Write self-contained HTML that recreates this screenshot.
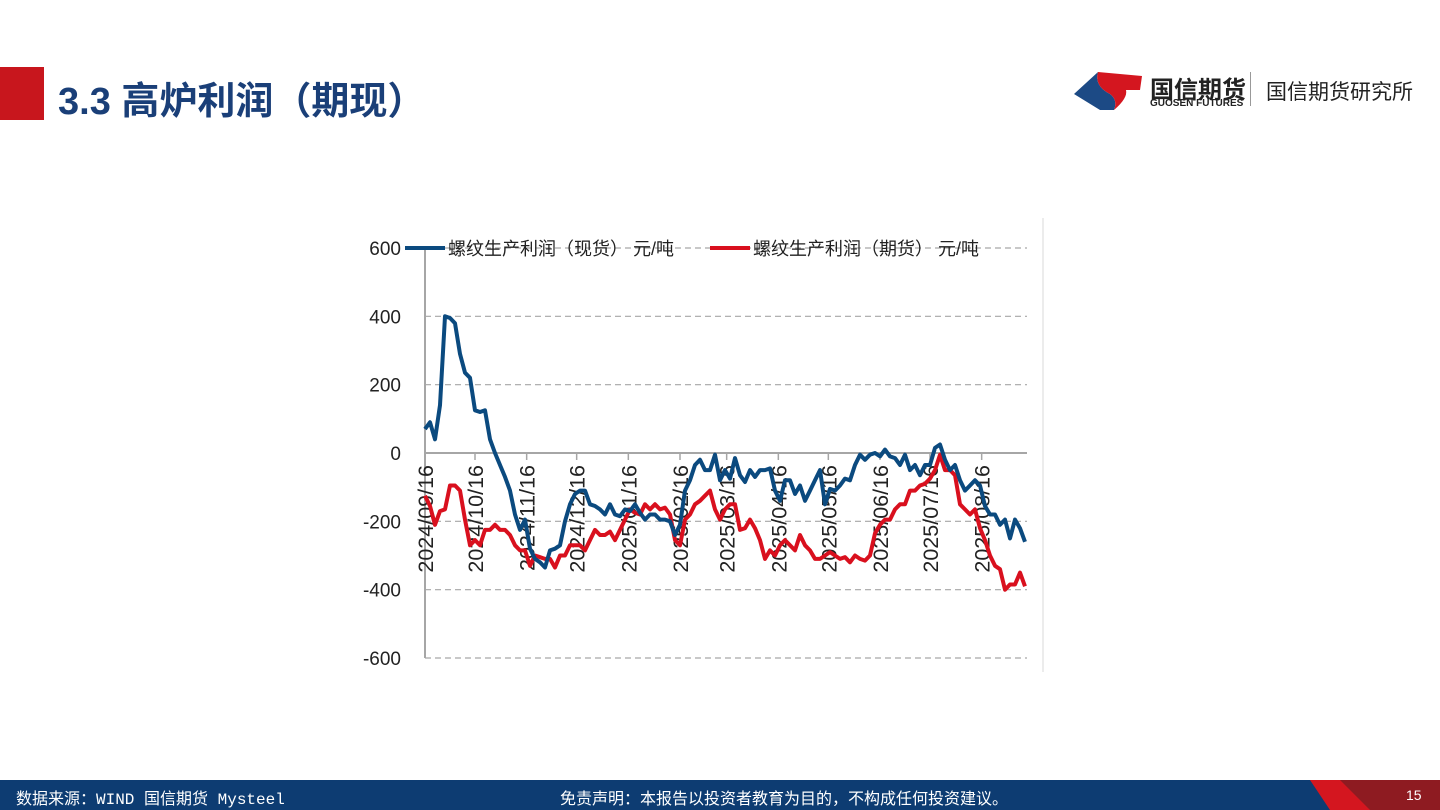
<!DOCTYPE html>
<html><head><meta charset="utf-8">
<style>
body{margin:0;width:1440px;height:810px;position:relative;background:#fff;font-family:"Liberation Sans","Noto Sans CJK SC",sans-serif;overflow:hidden}
.abs{position:absolute}
</style></head><body>
<div class="abs" style="left:0;top:67px;width:44px;height:53px;background:#c8161d"></div>
<div class="abs" style="left:58px;top:70px;font-size:38px;font-weight:bold;color:#1a3f78">3.3 高炉利润（期现）</div>
<div class="abs" style="left:1072px;top:68px;width:360px;height:46px">
<svg width="80" height="46" style="position:absolute;left:0;top:0"><path d="M2 26 L26 4 Q22 18 38 26 Q46 32 42 42 L28 42 Z" fill="#1c4a85"/><path d="M26 4 L70 8 L68 22 L54 22 Q56 30 42 42 Q46 32 38 26 Q22 18 26 4 Z" fill="#d4161f"/></svg>
<div class="abs" style="left:78px;top:2px;font-size:24px;font-weight:bold;color:#222">国信期货</div>
<div class="abs" style="left:78px;top:30px;font-size:10px;font-weight:bold;color:#222">GUOSEN FUTURES</div>
<div class="abs" style="left:178px;top:4px;width:1px;height:34px;background:#999"></div>
<div class="abs" style="left:194px;top:8px;font-size:21px;color:#222">国信期货研究所</div>
</div>
<svg class="abs" style="left:0;top:0" width="1440" height="810">
<line x1="1043" y1="218" x2="1043" y2="672" stroke="#d8d8d8"/>
<g id="grid"></g><g id="axes"></g><g id="series"></g><g id="legend"></g>
</svg>
<div class="abs" style="left:0;top:780px;width:1440px;height:30px;background:#0d3c72"></div>
<svg class="abs" style="left:1300px;top:780px" width="140" height="30"><polygon points="10,0 60,0 75,30 30,30" fill="#d4161f"/><polygon points="40,0 140,0 140,30 70,30" fill="#8e1b21"/></svg>
<div class="abs" style="left:16px;top:785px;font-size:16px;color:#fff;font-family:'Liberation Mono','Noto Sans CJK SC',monospace">数据来源：WIND 国信期货 Mysteel</div>
<div class="abs" style="left:560px;top:785px;font-size:16px;color:#fff">免责声明：本报告以投资者教育为目的，不构成任何投资建议。</div>
<div class="abs" style="left:1406px;top:787px;font-size:14px;color:#fff">15</div>
<script>
const yTicks=[600,400,200,0,-200,-400,-600];
const monthLabels=["2024/09/16","2024/10/16","2024/11/16","2024/12/16","2025/01/16","2025/02/16","2025/03/16","2025/04/16","2025/05/16","2025/06/16","2025/07/16","2025/08/16"];
const monthDays=[0,30,61,91,122,153,181,212,242,273,303,334];
const stepDays=3;
const spot=[70,90,40,140,400,395,380,290,235,220,125,120,125,40,0,-35,-70,-110,-180,-225,-195,-280,-310,-320,-335,-285,-280,-270,-200,-150,-120,-110,-110,-150,-155,-165,-180,-150,-180,-185,-165,-170,-150,-175,-195,-180,-180,-195,-195,-200,-240,-210,-110,-80,-35,-20,-50,-50,-5,-80,-50,-75,-15,-65,-85,-50,-70,-50,-50,-45,-110,-140,-80,-80,-120,-95,-140,-110,-80,-50,-150,-105,-110,-95,-75,-80,-35,-5,-20,-5,0,-10,10,-10,-15,-35,-5,-50,-35,-65,-35,-35,15,25,-20,-50,-35,-80,-110,-95,-80,-95,-155,-180,-180,-210,-195,-250,-195,-220,-260];
const futures=[-125,-155,-210,-170,-165,-95,-95,-110,-195,-270,-255,-270,-225,-225,-210,-225,-225,-240,-270,-285,-285,-330,-300,-305,-310,-310,-335,-300,-300,-270,-270,-270,-285,-255,-225,-240,-240,-230,-255,-225,-195,-165,-175,-180,-150,-165,-150,-165,-160,-180,-255,-270,-195,-180,-150,-140,-125,-110,-165,-195,-165,-150,-150,-225,-220,-195,-220,-255,-310,-285,-300,-270,-255,-270,-285,-240,-270,-285,-310,-310,-300,-290,-300,-310,-305,-320,-300,-310,-315,-300,-235,-210,-195,-195,-165,-150,-150,-110,-110,-95,-90,-75,-50,-5,-50,-50,-65,-150,-165,-180,-165,-220,-255,-300,-330,-340,-400,-385,-385,-350,-390];
const seriesNames=["螺纹生产利润（现货） 元/吨","螺纹生产利润（期货） 元/吨"];
const NS="http://www.w3.org/2000/svg";
const X0=425,PXD=5/3;
const xS=d=>X0+d*PXD;
const yS=v=>453-v*(205/600);
function mk(tag,attrs,parent){const e=document.createElementNS(NS,tag);for(const k in attrs)e.setAttribute(k,attrs[k]);document.getElementById(parent).appendChild(e);return e;}
yTicks.forEach(t=>{
  const y=yS(t);
  const ln=mk('line',{x1:X0,x2:1027,y1:y,y2:y,stroke:'#a6a6a6','stroke-width':t===0?2:1.2,'stroke-dasharray':t===0?'none':'6,4'},'grid');
  
  
  const tx=mk('text',{x:401,y:y+7,'text-anchor':'end','font-size':19,fill:'#222'},'axes');
  tx.textContent=String(t);
  
  
});
const ax=mk('line',{x1:X0,x2:X0,y1:yS(600),y2:yS(-600),stroke:'#a6a6a6','stroke-width':2},'axes');


monthLabels.forEach((lab,i)=>{
  const x=xS(monthDays[i]);
  const tk=mk('line',{x1:x,x2:x,y1:453,y2:460,stroke:'#a6a6a6','stroke-width':1.5},'axes');
  
  
  const tx=mk('text',{x:0,y:0,'text-anchor':'end','font-size':21.5,fill:'#222',transform:`translate(${x+8},465) rotate(-90)`},'axes');
  tx.textContent=lab;
  
  
});
function line(vals,color,name){
  const d=vals.map((v,i)=>(i?'L':'M')+xS(i*stepDays).toFixed(1)+' '+yS(v).toFixed(1)).join(' ');
  const p=mk('path',{d:d,fill:'none',stroke:color,'stroke-width':4,'stroke-linejoin':'round'},'series');
  
  
}
line(futures,'#d9101e','futures-profit-line');
line(spot,'#0b4a7f','spot-profit-line');
[[405,'#0b4a7f'],[710,'#d9101e']].forEach((l,i)=>{
  const s=mk('line',{x1:l[0],x2:l[0]+40,y1:248,y2:248,stroke:l[1],'stroke-width':4},'legend');
  
  
  const t=mk('text',{x:l[0]+43,y:255,'font-size':18,fill:'#222'},'legend');
  t.textContent=seriesNames[i];
  
  
});
</script>
</body></html>
